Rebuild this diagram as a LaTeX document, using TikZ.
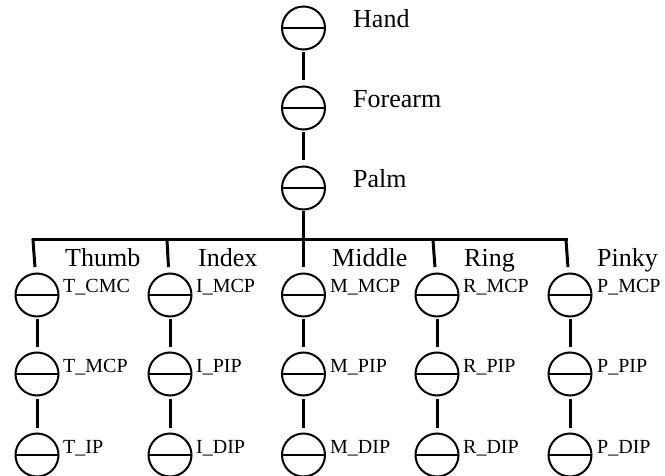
\documentclass[tikz,border=0pt]{standalone}
\usepackage{fontspec}
\setmainfont{Liberation Serif}
\begin{document}
\begin{tikzpicture}[x=1pt,y=-1pt,
  joint/.style={circle,draw,line width=2pt,minimum size=43pt,inner sep=0pt,
    path picture={\draw[line width=2pt] (path picture bounding box.west) -- (path picture bounding box.east);}},
  link/.style={line width=3pt,shorten <=2pt,shorten >=5pt},
  drop/.style={line width=3pt,line cap=rect,shorten >=7pt},
  part/.style={anchor=base west,inner sep=0pt,font=\fontsize{26}{26}\selectfont},
  jname/.style={anchor=base west,inner sep=0pt,font=\fontsize{20}{20}\selectfont}]
\useasboundingbox[fill=white] (0,0) rectangle (665,476);

% arm chain
\node[joint] (hand)    at (303.5,28)  {};
\node[joint] (forearm) at (303.5,108) {};
\node[joint] (palm)    at (303.5,188) {};
\node[part] (handL)    at (353,28)  {Hand};
\node[part] (forearmL) at (353,108) {Forearm};
\node[part] (palmL)    at (353,188) {Palm};
\draw[link] (hand) -- (forearm);
\draw[link] (forearm) -- (palm);

% branching bar
\coordinate (bT) at (33,240);
\coordinate (bI) at (167,240);
\coordinate (bM) at (303.5,240);
\coordinate (bR) at (433,240);
\coordinate (bP) at (566,240);
\draw[line width=3pt,shorten <=1pt] (palm) -- (bM);
\draw[line width=3pt,line cap=rect] (bT) -- (bP);

% finger joints
\node[joint] (tcmc) at (37,295)  {};
\node[joint] (tmcp) at (37,374)  {};
\node[joint] (tip)  at (37,455)  {};
\node[joint] (imcp) at (170,295) {};
\node[joint] (ipip) at (170,374) {};
\node[joint] (idip) at (170,455) {};
\node[joint] (mmcp) at (303.5,295) {};
\node[joint] (mpip) at (303.5,374) {};
\node[joint] (mdip) at (303.5,455) {};
\node[joint] (rmcp) at (437,295) {};
\node[joint] (rpip) at (437,374) {};
\node[joint] (rdip) at (437,455) {};
\node[joint] (pmcp) at (570,295) {};
\node[joint] (ppip) at (570,374) {};
\node[joint] (pdip) at (570,455) {};

% drops from the bar
\draw[drop] (bT) -- (tcmc);
\draw[drop] (bI) -- (imcp);
\draw[drop] (bM) -- (mmcp);
\draw[drop] (bR) -- (rmcp);
\draw[drop] (bP) -- (pmcp);

% finger links
\draw[link] (tcmc) -- (tmcp); \draw[link] (tmcp) -- (tip);
\draw[link] (imcp) -- (ipip); \draw[link] (ipip) -- (idip);
\draw[link] (mmcp) -- (mpip); \draw[link] (mpip) -- (mdip);
\draw[link] (rmcp) -- (rpip); \draw[link] (rpip) -- (rdip);
\draw[link] (pmcp) -- (ppip); \draw[link] (ppip) -- (pdip);

% finger names
\node[part] (thumbL)  at (65,267)  {Thumb};
\node[part] (indexL)  at (198,267) {Index};
\node[part] (middleL) at (332,267) {Middle};
\node[part] (ringL)   at (464,267) {Ring};
\node[part] (pinkyL)  at (597,267) {Pinky};

% joint names
\node[jname] (tcmcL) at (63,293)  {T\_CMC};
\node[jname] (tmcpL) at (63,372.5)  {T\_MCP};
\node[jname] (tipL)  at (63,453.5)  {T\_IP};
\node[jname] (imcpL) at (196,293) {I\_MCP};
\node[jname] (ipipL) at (196,372.5) {I\_PIP};
\node[jname] (idipL) at (196,453.5) {I\_DIP};
\node[jname] (mmcpL) at (330,293) {M\_MCP};
\node[jname] (mpipL) at (330,372.5) {M\_PIP};
\node[jname] (mdipL) at (330,453.5) {M\_DIP};
\node[jname] (rmcpL) at (463,293) {R\_MCP};
\node[jname] (rpipL) at (463,372.5) {R\_PIP};
\node[jname] (rdipL) at (463,453.5) {R\_DIP};
\node[jname] (pmcpL) at (597,293) {P\_MCP};
\node[jname] (ppipL) at (597,372.5) {P\_PIP};
\node[jname] (pdipL) at (597,453.5) {P\_DIP};
\end{tikzpicture}
\end{document}
